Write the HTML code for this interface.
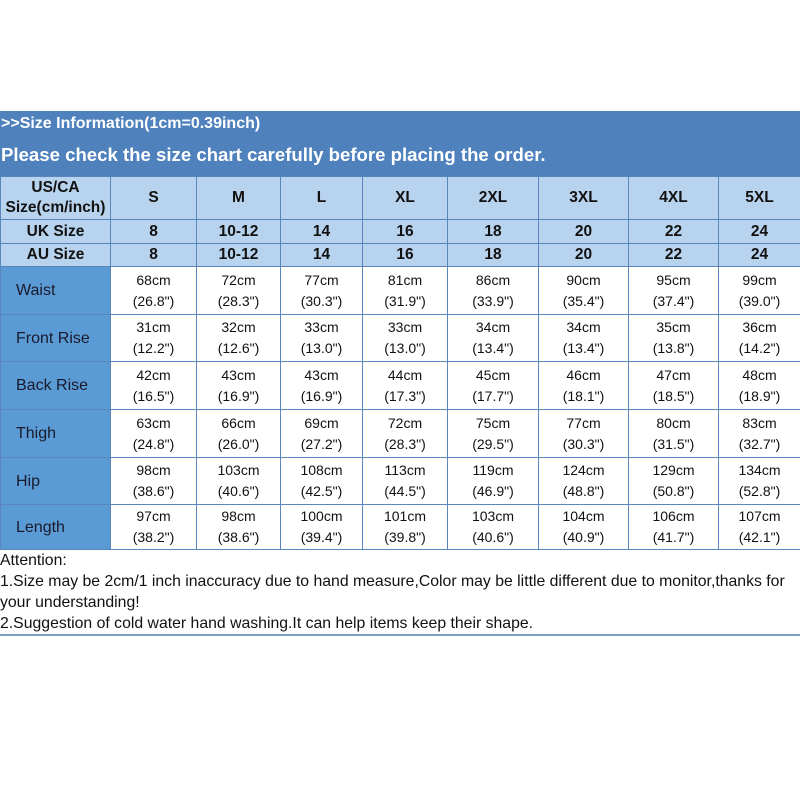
<!DOCTYPE html><html><head><style>
body{margin:0;width:800px;height:800px;background:#fff;font-family:"Liberation Sans",Arial,sans-serif;position:relative;overflow:hidden}
.band{position:absolute;left:0;top:111px;width:800px;height:65px;background:#4f81bd;color:#fff;font-weight:bold}
.t1{position:absolute;left:1px;top:4px;font-size:16px}
.t2{position:absolute;left:1px;top:33px;font-size:18.6px}
table{position:absolute;left:0;top:176px;border-collapse:collapse;table-layout:fixed;width:800px}
td{border:1px solid #5b86bd;text-align:center;padding:0;font-size:14px;color:#111;line-height:21px}
.h td{background:#b8d3ee;font-weight:bold;font-size:15.5px;color:#111;line-height:20px}
td.l{background:#5b9bd5;text-align:left;padding-left:15px;font-size:16px;color:#1a1a2a}
.foot{position:absolute;left:0;top:550px;width:800px;font-size:15.8px;color:#111;line-height:21px}
.line{position:absolute;left:0;top:634px;width:800px;height:2px;background:#7ea0c8}
</style></head><body>
<div class="band"><div class="t1">&gt;&gt;Size Information(1cm=0.39inch)</div><div class="t2">Please check the size chart carefully before placing the order.</div></div>
<table>
<colgroup><col style="width:110px"><col style="width:86px"><col style="width:84px"><col style="width:82px"><col style="width:85px"><col style="width:91px"><col style="width:90px"><col style="width:90px"><col style="width:82px"></colgroup>
<tr class="h" style="height:43px"><td>US/CA<br>Size(cm/inch)</td><td>S</td><td>M</td><td>L</td><td>XL</td><td>2XL</td><td>3XL</td><td>4XL</td><td>5XL</td></tr>
<tr class="h" style="height:24px"><td>UK Size</td><td>8</td><td>10-12</td><td>14</td><td>16</td><td>18</td><td>20</td><td>22</td><td>24</td></tr>
<tr class="h" style="height:23px"><td>AU Size</td><td>8</td><td>10-12</td><td>14</td><td>16</td><td>18</td><td>20</td><td>22</td><td>24</td></tr>
<tr style="height:48px"><td class="l">Waist</td><td>68cm<br>(26.8")</td><td>72cm<br>(28.3")</td><td>77cm<br>(30.3")</td><td>81cm<br>(31.9")</td><td>86cm<br>(33.9")</td><td>90cm<br>(35.4")</td><td>95cm<br>(37.4")</td><td>99cm<br>(39.0")</td></tr>
<tr style="height:47px"><td class="l">Front Rise</td><td>31cm<br>(12.2")</td><td>32cm<br>(12.6")</td><td>33cm<br>(13.0")</td><td>33cm<br>(13.0")</td><td>34cm<br>(13.4")</td><td>34cm<br>(13.4")</td><td>35cm<br>(13.8")</td><td>36cm<br>(14.2")</td></tr>
<tr style="height:48px"><td class="l">Back Rise</td><td>42cm<br>(16.5")</td><td>43cm<br>(16.9")</td><td>43cm<br>(16.9")</td><td>44cm<br>(17.3")</td><td>45cm<br>(17.7")</td><td>46cm<br>(18.1")</td><td>47cm<br>(18.5")</td><td>48cm<br>(18.9")</td></tr>
<tr style="height:48px"><td class="l">Thigh</td><td>63cm<br>(24.8")</td><td>66cm<br>(26.0")</td><td>69cm<br>(27.2")</td><td>72cm<br>(28.3")</td><td>75cm<br>(29.5")</td><td>77cm<br>(30.3")</td><td>80cm<br>(31.5")</td><td>83cm<br>(32.7")</td></tr>
<tr style="height:47px"><td class="l">Hip</td><td>98cm<br>(38.6")</td><td>103cm<br>(40.6")</td><td>108cm<br>(42.5")</td><td>113cm<br>(44.5")</td><td>119cm<br>(46.9")</td><td>124cm<br>(48.8")</td><td>129cm<br>(50.8")</td><td>134cm<br>(52.8")</td></tr>
<tr style="height:45px"><td class="l">Length</td><td>97cm<br>(38.2")</td><td>98cm<br>(38.6")</td><td>100cm<br>(39.4")</td><td>101cm<br>(39.8")</td><td>103cm<br>(40.6")</td><td>104cm<br>(40.9")</td><td>106cm<br>(41.7")</td><td>107cm<br>(42.1")</td></tr>
</table>
<div class="foot">Attention:<br>1.Size may be 2cm/1 inch inaccuracy due to hand measure,Color may be little different due to monitor,thanks for your understanding!<br>2.Suggestion of cold water hand washing.It can help items keep their shape.</div>
<div class="line"></div>
</body></html>
